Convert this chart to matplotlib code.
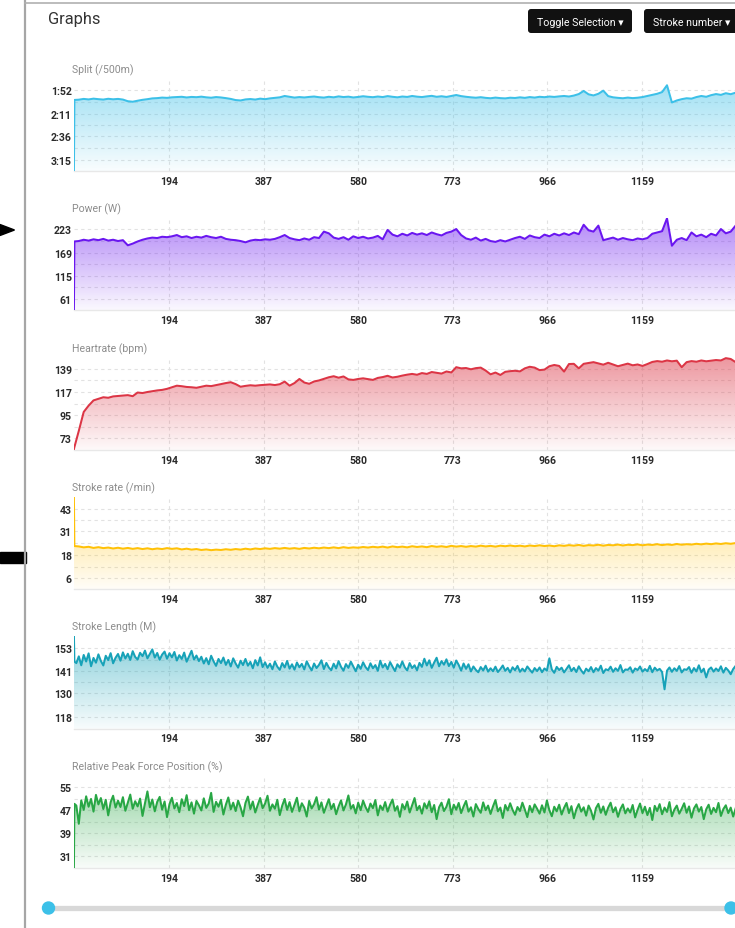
import numpy as np
import matplotlib
matplotlib.use('Agg')
import matplotlib.pyplot as plt
from matplotlib import colors as mcolors
from matplotlib.patches import FancyBboxPatch, Polygon, Rectangle, Circle

plt.rcParams['font.family'] = ['Roboto', 'DejaVu Sans']

W, H = 735, 929

# stroke numbers of the sampled values
strokes_a = np.r_[0, 1, np.arange(10, 1351, 10)]
strokes_b = np.r_[0, 1, np.arange(5, 1351, 5)]

# split in seconds per 500m
split_pace = [
    230, 119.2,
    119.0, 118.4, 118.8, 118.2, 118.6, 118.9, 118.3, 118.7, 118.4, 118.9,
    120.2, 120.6, 119.8, 119.1, 118.6, 118.0, 117.8, 117.4, 117.6, 117.2,
    117.0, 116.8, 117.3, 116.9, 117.1, 116.7, 117.2, 117.5, 117.0, 117.3,
    117.8, 118.4, 119.3, 119.6, 118.8, 118.5, 118.9, 118.2, 118.6, 118.0,
    117.6, 117.2, 116.2, 116.8, 117.4, 117.0, 117.3, 116.9, 116.6, 117.1,
    117.4, 116.8, 117.2, 116.5, 117.0, 116.7, 117.3, 116.9, 116.4, 116.8,
    117.1, 116.6, 117.0, 116.3, 116.8, 117.2, 116.6, 116.9, 116.2, 116.7,
    117.0, 116.5, 116.1, 116.8, 116.4, 116.9, 116.2, 115.5, 116.3, 116.8,
    117.2, 117.5, 117.1, 117.6, 117.9, 117.4, 117.8, 118.0, 117.5, 117.7,
    117.2, 117.6, 117.0, 117.4, 116.8, 117.1, 116.6, 116.9, 116.5, 116.2,
    116.6, 115.9, 114.8, 112.6, 115.0, 115.8, 114.6, 112.4, 116.3, 117.2,
    117.6, 117.9, 117.4, 117.8, 117.5, 117.0, 116.2, 115.4, 114.6, 113.4,
    108.8, 121.2, 119.6, 118.6, 117.9, 118.2, 117.0, 116.2, 116.8, 115.6,
    114.8, 115.4, 114.2, 114.9, 113.8,
]

power = [
    30, 195,
    196, 199, 197, 200, 198, 201, 197, 199, 196, 198,
    186, 190, 195, 199, 202, 204, 203, 206, 205, 207,
    210, 205, 207, 203, 206, 204, 208, 205, 203, 206,
    201, 199, 198, 196, 193, 197, 199, 198, 200, 199,
    201, 205, 210, 203, 200, 198, 202, 199, 205, 203,
    218, 214, 204, 201, 205, 199, 207, 203, 206, 202,
    204, 208, 200, 222, 211, 207, 213, 209, 215, 211,
    214, 210, 216, 212, 209, 215, 218, 224, 210, 202,
    199, 204, 197, 201, 196, 194, 198, 195, 199, 203,
    206, 201, 209, 205, 203, 211, 207, 213, 209, 214,
    210, 216, 212, 234, 221, 218, 232, 198, 201, 204,
    199, 203, 200, 198, 202, 200, 203, 213, 216, 219,
    249, 185, 199, 203, 198, 216, 207, 211, 205, 213,
    209, 224, 214, 218, 232,
]

heartrate = [
    62.5, 64.5,
    80, 98, 104, 109, 110.5, 112, 111.5, 112.8, 113.2,
    113.5, 114, 113, 116.5, 116, 117, 117.8, 118.5, 119, 120,
    121.5, 123, 122.5, 121.8, 121.5, 121, 122, 123, 122.6, 123.5,
    124.5, 125.5, 126.3, 124.5, 122, 122.8, 123.4, 123, 123.5, 123.8,
    124.2, 123.6, 124.4, 126.9, 123, 125.5, 129.4, 126, 124.8, 127,
    128, 129.5, 131, 132, 130.6, 131.8, 129, 128.5, 129.4, 130,
    129.2, 128.5, 130.4, 131.2, 132.4, 130.8, 131.5, 132.6, 133.5, 134.2,
    133.4, 135, 134.2, 136, 135.2, 134.5, 136.5, 135.6, 140.6, 139.5,
    139.8, 138.6, 139.7, 140.2, 137.4, 133.8, 135.5, 133.2, 136.2, 136.8,
    137.2, 136.6, 139.5, 141, 140.2, 137.8, 138.3, 141.5, 142.7, 141.8,
    136.4, 143.6, 143.8, 139.5, 143.8, 144.6, 145.4, 144.2, 143, 144.8,
    143.2, 141.5, 142.8, 144, 142.4, 143.2, 141.8, 143.6, 145.6, 146.4,
    145.8, 147, 146.2, 146.8, 140.6, 145.4, 146.4, 145.8, 147, 146.2,
    146.8, 147.4, 147, 149.2, 148.4, 145.4,
]

stroke_rate = [
    50, 23.0,
    22.8, 22.3, 22.6, 22.0, 22.4, 21.9, 22.2, 21.7, 22.1,
    21.6, 22.0, 21.5, 21.9, 21.4, 21.8, 21.3, 21.7, 21.4, 21.9,
    21.5, 21.8, 21.2, 21.6, 21.1, 21.4, 20.9, 21.2, 20.8, 21.1,
    20.9, 21.3, 21.0, 21.4, 21.1, 21.6, 21.2, 21.7, 21.4, 21.8,
    21.5, 21.9, 21.6, 22.0, 21.6, 21.9, 21.5, 22.0, 21.7, 22.1,
    21.8, 22.2, 21.9, 22.3, 21.9, 22.4, 22.0, 22.3, 22.1, 22.5,
    22.2, 22.6, 22.3, 22.7, 22.2, 22.8, 22.4, 22.7, 22.3, 22.9,
    22.5, 22.8, 22.4, 23.0, 22.6, 22.9, 22.5, 23.1, 22.7, 23.0,
    22.6, 23.0, 22.7, 23.2, 22.8, 23.1, 22.7, 23.2, 22.9, 23.3,
    22.9, 23.2, 22.8, 23.3, 23.0, 23.4, 23.0, 23.3, 22.9, 23.4,
    23.1, 23.5, 23.2, 23.6, 23.1, 23.5, 23.3, 23.7, 23.2, 23.6,
    23.4, 23.8, 23.3, 23.7, 23.5, 23.9, 23.4, 23.8, 23.6, 24.0,
    23.5, 23.9, 23.6, 24.1, 23.7, 24.0, 23.8, 24.2, 23.9, 24.3,
    24.0, 24.4, 24.1, 24.5, 24.2, 24.6,
]

stroke_length = [
    160, 146.0,
    145.2, 148.6, 144.1, 149.3, 146.0, 150.1, 143.6, 147.8, 145.4,
    149.6, 146.3, 144.0, 148.9, 146.7, 150.2, 145.1, 147.9, 149.8, 146.4,
    150.6, 147.5, 149.9, 146.8, 151.2, 148.3, 147.0, 150.4, 148.7, 151.5,
    147.6, 149.8, 152.1, 148.0, 150.3, 146.9, 149.5, 151.0, 147.4, 150.2,
    148.1, 150.8, 146.5, 149.2, 147.3, 150.5, 145.9, 148.6, 151.4, 147.0,
    149.0, 146.2, 148.4, 145.0, 147.7, 144.6, 148.9, 146.1, 143.8, 147.3,
    145.2, 148.0, 144.3, 146.8, 143.5, 147.6, 145.0, 142.9, 146.4, 144.2,
    147.3, 143.9, 145.8, 142.6, 146.7, 144.0, 148.1, 143.2, 145.6, 142.8,
    144.9, 142.1, 146.0, 143.4, 141.8, 145.2, 143.0, 146.3, 142.4, 144.6,
    141.9, 145.5, 143.1, 144.8, 142.0, 146.1, 143.6, 141.5, 145.0, 142.7,
    144.3, 146.6, 142.2, 145.3, 143.0, 141.6, 144.9, 142.5, 146.2, 143.3,
    141.4, 144.7, 142.8, 145.9, 143.5, 141.1, 144.4, 142.3, 145.6, 143.2,
    141.7, 145.1, 142.6, 144.2, 141.3, 146.4, 143.0, 144.8, 142.1, 145.7,
    143.4, 141.2, 144.6, 142.9, 146.0, 143.1, 141.5, 145.2, 142.7, 144.1,
    141.6, 145.3, 143.3, 147.4, 144.0, 146.6, 142.8, 145.5, 147.9, 143.6,
    146.2, 144.4, 147.1, 143.7, 145.8, 142.9, 146.5, 144.3, 141.4, 145.0,
    142.3, 144.6, 141.0, 143.5, 141.8, 140.6, 143.2, 141.5, 143.9, 140.9,
    142.6, 141.1, 143.4, 140.7, 142.2, 144.0, 141.3, 142.8, 140.5, 143.1,
    141.6, 143.8, 140.8, 142.4, 141.0, 143.5, 141.9, 140.4, 142.7, 141.2,
    143.0, 140.6, 142.5, 141.4, 147.6, 142.0, 140.3, 143.3, 141.7, 142.9,
    140.5, 142.3, 144.1, 141.2, 142.8, 140.7, 143.6, 141.5, 139.9, 142.4,
    141.1, 143.2, 140.6, 142.7, 141.4, 143.9, 140.2, 142.1, 141.6, 143.4,
    140.8, 142.6, 141.3, 144.2, 140.5, 142.0, 141.8, 143.1, 140.4, 142.5,
    141.7, 143.5, 140.9, 142.2, 141.1, 143.8, 140.6, 142.9, 141.5, 142.3,
    140.7, 132.0, 141.4, 143.0, 140.8, 142.6, 141.3, 143.7, 140.5, 142.1,
    141.8, 143.2, 140.3, 142.7, 141.0, 144.1, 140.6, 142.4, 138.0, 141.9,
    143.0, 140.9, 142.5, 141.2, 143.6, 140.4, 142.8, 141.5, 139.6, 142.2,
    143.8,
]

peak_force = [
    26, 49.2,
    48.6, 42.3, 50.4, 47.1, 51.8, 48.2, 50.9, 46.5, 52.3,
    49.0, 51.2, 47.4, 50.6, 45.2, 49.8, 52.0, 47.9, 50.3, 48.1,
    51.5, 46.8, 49.6, 52.4, 47.5, 50.1, 48.3, 51.0, 45.0, 49.4,
    53.5, 48.0, 50.7, 46.6, 49.9, 51.6, 47.2, 50.0, 44.6, 49.1,
    51.3, 47.6, 49.5, 46.3, 50.8, 48.4, 52.2, 47.0, 49.7, 45.8,
    50.2, 48.7, 46.9, 51.1, 47.8, 49.3, 53.0, 46.4, 49.9, 48.2,
    50.6, 45.5, 48.9, 51.4, 47.3, 49.6, 46.7, 50.3, 48.0, 44.9,
    49.5, 51.7, 47.4, 50.0, 46.2, 48.8, 51.2, 47.7, 49.3, 52.0,
    46.8, 49.0, 47.5, 50.6, 45.3, 48.6, 50.9, 47.1, 49.8, 46.4,
    48.9, 51.3, 46.6, 49.4, 47.9, 44.8, 50.2, 47.6, 49.1, 51.5,
    47.2, 49.7, 46.1, 48.5, 50.8, 47.4, 49.2, 45.6, 48.3, 50.4,
    46.9, 49.0, 52.1, 47.5, 48.8, 45.9, 49.6, 47.0, 50.3, 48.1,
    46.4, 49.3, 47.7, 50.5, 45.2, 48.6, 47.1, 49.8, 46.5, 48.9,
    50.7, 46.8, 48.4, 44.7, 49.1, 47.3, 50.0, 46.2, 48.7, 51.2,
    47.0, 48.5, 45.8, 49.4, 47.6, 50.1, 46.3, 48.8, 43.9, 48.0,
    49.6, 46.7, 48.2, 50.8, 45.6, 48.9, 47.2, 49.5, 46.0, 48.3,
    50.2, 46.5, 48.0, 44.8, 49.1, 47.4, 46.1, 49.7, 47.0, 48.6,
    45.7, 48.3, 50.5, 46.6, 47.9, 44.3, 48.8, 46.9, 49.4, 47.1,
    45.4, 48.1, 46.7, 49.6, 47.2, 44.6, 48.5, 46.3, 49.0, 47.5,
    45.8, 48.7, 46.2, 50.4, 47.0, 44.9, 48.2, 46.6, 48.9, 45.5,
    47.8, 49.5, 46.0, 48.4, 44.2, 47.3, 49.1, 46.5, 48.0, 45.1,
    48.6, 46.8, 43.8, 47.7, 49.2, 46.1, 48.3, 45.4, 47.9, 49.6,
    46.3, 48.0, 44.7, 47.4, 49.0, 45.9, 47.6, 46.2, 48.8, 44.5,
    47.1, 49.3, 46.0, 48.2, 45.3, 47.8, 43.6, 48.5, 46.7, 49.1,
    45.6, 47.9, 46.4, 49.8, 44.9, 47.2, 48.6, 45.8, 47.5, 49.4,
    46.1, 48.3, 44.4, 47.6, 49.0, 46.5, 48.1, 43.9, 47.3, 48.9,
    45.7, 47.8, 46.3, 49.5, 45.0, 47.4, 48.7, 46.0, 47.9, 44.8,
    47.6,
]

x_ticks = [194, 387, 580, 773, 966, 1159]
split_labels = ['1:52', '2:11', '2:36', '3:15']
power_ticks = [223, 169, 115, 61]
hr_ticks = [139, 117, 95, 73]
rate_ticks = [43, 31, 18, 6]
length_ticks = [153, 141, 130, 118]
force_ticks = [55, 47, 39, 31]

titles = ['Split (/500m)', 'Power (W)', 'Heartrate (bpm)', 'Stroke rate (/min)',
          'Stroke Length (M)', 'Relative Peak Force Position (%)']


def to_speed(sec):
    return 500.0 / np.asarray(sec, dtype=float)


def label_secs(lab):
    m, s = lab.split(':')
    return int(m) * 60 + int(s)


split_tick_pos = [to_speed(label_secs(l)) for l in split_labels]

charts = [
    (strokes_a, to_speed(split_pace), split_tick_pos, split_labels, (2.255, 4.78), '#3cc0e8'),
    (strokes_a, power, power_ticks, [str(t) for t in power_ticks], (34, 250), '#6a16f0'),
    (strokes_a, heartrate, hr_ticks, [str(t) for t in hr_ticks], (62, 150), '#dc3545'),
    (strokes_a, stroke_rate, rate_ticks, [str(t) for t in rate_ticks], (0, 49.3), '#ffc107'),
    (strokes_b, stroke_length, length_ticks, [str(t) for t in length_ticks], (112.2, 158.8), '#17a2b8'),
    (strokes_b, peak_force, force_ticks, [str(t) for t in force_ticks], (27, 59), '#28a745'),
]

for xs, ys, *_ in charts:
    assert len(xs) == len(ys), (len(xs), len(ys))

fig = plt.figure(figsize=(W / 100, H / 100), dpi=100)
bg = fig.add_axes([0, 0, 1, 1])
bg.set_xlim(0, W)
bg.set_ylim(H, 0)
bg.axis('off')

# page frame and bits of the surrounding page
bg.plot([25, 25], [0, H], color='#a6a6a6', lw=1.6)
bg.plot([25, W], [3.5, 3.5], color='#b0b0b0', lw=1.2)
bg.add_patch(Polygon([[0, 225.5], [14.5, 231], [0, 236.5]], closed=True, color='black'))
bg.add_patch(Rectangle((0, 553), 26, 10.5, color='black'))

bg.text(48, 19.5, 'Graphs', fontsize=11.8, color='#333333', va='center', ha='left')
for bx, bw, tx, label in [(528, 104, 580, 'Toggle Selection ▾'),
                          (644, 110, 692, 'Stroke number ▾')]:
    bg.add_patch(FancyBboxPatch((bx, 10), bw, 24, boxstyle='round,pad=0,rounding_size=3',
                                facecolor='#111111', edgecolor='none'))
    bg.text(tx, 22.5, label, color='white', fontsize=7.7, ha='center', va='center')

# range slider
bg.plot([48, 731], [909, 909], color='#d8d8d8', lw=3.8, solid_capstyle='round', zorder=2)
for cx in (48.5, 731):
    bg.add_patch(Circle((cx, 909), 6.0, color='#3cc0e8', zorder=3))

x0_px, x1_px = 73.9, 736.6
x_max = 1352
ax_h = 92.5
grid_kw = dict(color='#e2e2e2', lw=0.8, ls=(0, (3, 3)))

for k, (xs, ys, yt, ylab, (ymin, ymax), color) in enumerate(charts):
    top = 79.5 + 139.4 * k
    ax = fig.add_axes([x0_px / W, 1 - (top + ax_h) / H, (x1_px - x0_px) / W, ax_h / H])
    ax.set_facecolor('none')
    ax.set_axisbelow(True)

    ys = np.asarray(ys, dtype=float)
    poly = ax.fill_between(xs, ys, ymin, facecolor='none', edgecolor='none')
    grad = np.zeros((256, 1, 4))
    grad[..., :3] = mcolors.to_rgb(color)
    grad[..., 3] = np.linspace(0.52, 0.03, 256)[:, None]
    im = ax.imshow(grad, extent=[0, x_max, ymin, ymax], aspect='auto', origin='upper', zorder=1)
    im.set_clip_path(poly.get_paths()[0], transform=ax.transData)
    ax.plot(xs, ys, color=color, lw=1.45, zorder=3)

    ax.set_xlim(0, x_max)
    ax.set_ylim(ymin, ymax)
    ax.set_xticks(x_ticks)
    ax.set_xticklabels([str(t) for t in x_ticks])
    ax.set_yticks(yt)
    ax.set_yticklabels(ylab)
    mids = [(yt[i] + yt[i + 1]) / 2 for i in range(len(yt) - 1)]
    ax.set_yticks(mids, minor=True)
    ax.grid(which='both', axis='y', **grid_kw)
    ax.grid(which='major', axis='x', **grid_kw)
    ax.tick_params(which='both', length=0)
    ax.tick_params(axis='y', pad=1.5, labelsize=7.6, labelcolor='#2b2b2b')
    ax.tick_params(axis='x', pad=3.5, labelsize=7.6, labelcolor='#2b2b2b')
    for lab in ax.get_xticklabels() + ax.get_yticklabels():
        lab.set_fontweight('bold')
    for side in ('top', 'right', 'left'):
        ax.spines[side].set_visible(False)
    ax.spines['bottom'].set_color('#e8e8e8')
    ax.spines['bottom'].set_linewidth(1.0)

    bg.text(72, top - 9.5, titles[k], fontsize=7.6, color='#8c8c8c', ha='left', va='center')

fig.savefig('out.png', dpi=100)
